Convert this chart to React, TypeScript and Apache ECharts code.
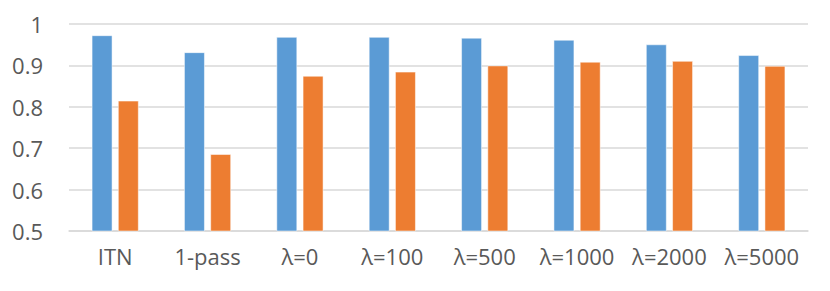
import React, { useEffect, useRef } from "react";
import * as echarts from "echarts";

const categories = ["ITN", "1-pass", "λ=0", "λ=100", "λ=500", "λ=1000", "λ=2000", "λ=5000"];
const seriesBlue = [0.973, 0.932, 0.969, 0.969, 0.967, 0.962, 0.951, 0.925];
const seriesOrange = [0.815, 0.686, 0.875, 0.885, 0.9, 0.909, 0.911, 0.899];
const yTicks = { min: 0.5, max: 1, interval: 0.1 };

export default function App() {
  const ref = useRef<HTMLDivElement>(null);
  useEffect(() => {
    if (!ref.current) return;
    const chart = echarts.init(ref.current, null, { renderer: "svg" });
    const font = "'Open Sans', 'Liberation Sans', sans-serif";
    chart.setOption({
      animation: false,
      backgroundColor: "#ffffff",
      grid: { left: 69, right: 22, top: 24, bottom: 60, containLabel: false },
      xAxis: {
        type: "category",
        data: categories,
        axisLine: { show: true, lineStyle: { color: "#D9D9D9", width: 1.5 } },
        axisTick: { show: false },
        axisLabel: { color: "#595959", fontSize: 22, fontFamily: font, margin: 14, interval: 0 },
      },
      yAxis: {
        type: "value",
        min: yTicks.min,
        max: yTicks.max,
        interval: yTicks.interval,
        axisLine: { show: false },
        axisTick: { show: false },
        splitLine: { lineStyle: { color: "#D9D9D9", width: 1.5 } },
        axisLabel: {
          color: "#595959",
          fontSize: 22,
          fontFamily: font,
          margin: 26,
          formatter: (v: number) => (Math.abs(v - 1) < 1e-9 ? "1" : v.toFixed(1)),
        },
      },
      series: [
        {
          type: "bar",
          data: seriesBlue,
          barWidth: 21,
          barGap: "25%",
          itemStyle: { color: "#5B9BD5", borderColor: "rgba(255,255,255,0.5)", borderWidth: 1 },
        },
        {
          type: "bar",
          data: seriesOrange,
          barWidth: 21,
          barGap: "25%",
          itemStyle: { color: "#ED7D31", borderColor: "rgba(255,255,255,0.5)", borderWidth: 1 },
        },
      ],
    });
    return () => chart.dispose();
  }, []);
  return <div ref={ref} style={{ width: 830, height: 291, position: "absolute", left: 0, top: 0 }} />;
}
